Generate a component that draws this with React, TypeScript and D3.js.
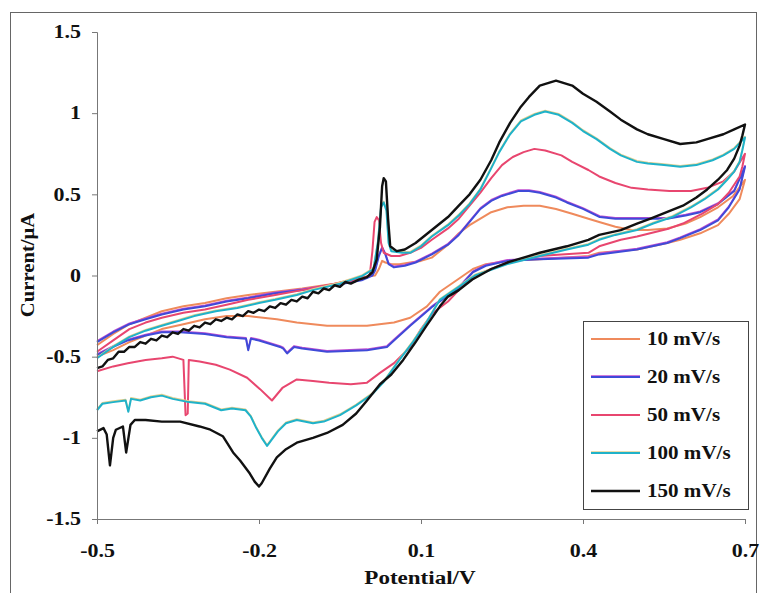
import React, { useEffect, useRef } from "react";
import * as d3 from "d3";

// potential (V) vs current (uA), anodic sweep then cathodic sweep
const scan10 = [
  [-0.5, -0.43], [-0.47, -0.36], [-0.44, -0.3], [-0.41, -0.26], [-0.38, -0.22], [-0.34, -0.19],
  [-0.3, -0.17], [-0.26, -0.14], [-0.22, -0.12], [-0.17, -0.1], [-0.12, -0.08], [-0.06, -0.05],
  [-0.01, -0.01], [0.015, 0.0], [0.022, 0.04], [0.028, 0.09], [0.034, 0.08], [0.045, 0.07],
  [0.06, 0.07], [0.08, 0.08], [0.1, 0.09], [0.12, 0.11], [0.15, 0.19], [0.17, 0.26], [0.19, 0.31],
  [0.21, 0.35], [0.23, 0.39], [0.26, 0.42], [0.29, 0.43], [0.32, 0.43], [0.35, 0.41], [0.38, 0.38],
  [0.41, 0.35], [0.43, 0.33], [0.46, 0.3], [0.49, 0.28], [0.52, 0.28], [0.556, 0.29], [0.59, 0.32],
  [0.617, 0.36], [0.65, 0.42], [0.678, 0.49],
  [0.7, 0.59], [0.695, 0.53], [0.69, 0.47], [0.67, 0.38], [0.65, 0.31], [0.617, 0.26], [0.58, 0.22],
  [0.556, 0.2], [0.5, 0.16], [0.43, 0.14], [0.41, 0.12], [0.32, 0.1], [0.26, 0.09], [0.22, 0.07],
  [0.196, 0.04], [0.17, -0.02], [0.135, -0.1], [0.111, -0.19], [0.08, -0.26], [0.05, -0.29],
  [0.0, -0.31], [-0.074, -0.31], [-0.13, -0.29], [-0.167, -0.27], [-0.22, -0.25], [-0.26, -0.25],
  [-0.3, -0.27], [-0.34, -0.3], [-0.38, -0.33], [-0.41, -0.37], [-0.44, -0.41], [-0.47, -0.46],
  [-0.5, -0.5],
];

const scan20 = [
  [-0.5, -0.41], [-0.47, -0.35], [-0.44, -0.3], [-0.41, -0.27], [-0.38, -0.24], [-0.34, -0.21],
  [-0.3, -0.19], [-0.26, -0.16], [-0.22, -0.14], [-0.17, -0.11], [-0.12, -0.09], [-0.06, -0.06],
  [-0.01, -0.03], [0.01, 0.0], [0.015, 0.03], [0.022, 0.12], [0.028, 0.17], [0.034, 0.13],
  [0.04, 0.07], [0.05, 0.05], [0.07, 0.06], [0.09, 0.08], [0.12, 0.13], [0.15, 0.19], [0.17, 0.25],
  [0.19, 0.33], [0.21, 0.41], [0.23, 0.46], [0.25, 0.49], [0.28, 0.52], [0.3, 0.52], [0.32, 0.51],
  [0.35, 0.48], [0.37, 0.45], [0.4, 0.41], [0.431, 0.36], [0.46, 0.35], [0.493, 0.35], [0.52, 0.35],
  [0.556, 0.35], [0.59, 0.37], [0.617, 0.39], [0.65, 0.44], [0.68, 0.52],
  [0.7, 0.67], [0.695, 0.6], [0.69, 0.53], [0.67, 0.42], [0.65, 0.34], [0.617, 0.28], [0.58, 0.23],
  [0.556, 0.2], [0.5, 0.16], [0.43, 0.13], [0.41, 0.11], [0.32, 0.1], [0.26, 0.09], [0.22, 0.06],
  [0.196, 0.02], [0.172, -0.07], [0.122, -0.19], [0.08, -0.31], [0.05, -0.4], [0.037, -0.44],
  [0.0, -0.46], [-0.074, -0.47], [-0.12, -0.45], [-0.135, -0.44], [-0.148, -0.48], [-0.155, -0.45],
  [-0.161, -0.44], [-0.2, -0.4], [-0.215, -0.39], [-0.22, -0.46], [-0.224, -0.39], [-0.26, -0.38],
  [-0.3, -0.36], [-0.346, -0.35], [-0.38, -0.35], [-0.41, -0.37], [-0.443, -0.4], [-0.47, -0.44],
  [-0.5, -0.49],
];

const scan50 = [
  [-0.5, -0.47], [-0.47, -0.4], [-0.44, -0.33], [-0.41, -0.29], [-0.38, -0.26], [-0.34, -0.23],
  [-0.3, -0.21], [-0.26, -0.18], [-0.22, -0.15], [-0.17, -0.12], [-0.12, -0.09], [-0.06, -0.05],
  [-0.01, -0.02], [0.005, 0.0], [0.01, 0.15], [0.014, 0.33], [0.018, 0.36], [0.022, 0.34],
  [0.026, 0.2], [0.031, 0.14], [0.045, 0.12], [0.06, 0.12], [0.08, 0.14], [0.1, 0.17], [0.12, 0.22],
  [0.15, 0.29], [0.17, 0.35], [0.19, 0.43], [0.21, 0.51], [0.23, 0.6], [0.25, 0.68], [0.27, 0.73],
  [0.29, 0.76], [0.31, 0.78], [0.33, 0.77], [0.36, 0.74], [0.38, 0.7], [0.41, 0.65], [0.43, 0.61],
  [0.46, 0.57], [0.49, 0.54], [0.52, 0.53], [0.56, 0.52], [0.6, 0.52], [0.63, 0.54], [0.66, 0.58],
  [0.68, 0.64],
  [0.7, 0.75], [0.695, 0.67], [0.69, 0.61], [0.67, 0.51], [0.65, 0.44], [0.62, 0.38], [0.585, 0.32],
  [0.56, 0.29], [0.5, 0.24], [0.47, 0.22], [0.43, 0.18], [0.41, 0.14], [0.36, 0.13], [0.32, 0.12],
  [0.26, 0.08], [0.2, 0.0], [0.17, -0.09], [0.15, -0.16], [0.122, -0.23], [0.1, -0.33], [0.08, -0.44],
  [0.05, -0.54], [0.024, -0.6], [0.0, -0.66], [-0.03, -0.67], [-0.07, -0.66], [-0.1, -0.65],
  [-0.13, -0.64], [-0.156, -0.69], [-0.176, -0.77], [-0.198, -0.7], [-0.222, -0.63], [-0.254, -0.58],
  [-0.28, -0.55], [-0.31, -0.53], [-0.33, -0.52], [-0.332, -0.85], [-0.336, -0.86], [-0.34, -0.52],
  [-0.36, -0.5], [-0.38, -0.51], [-0.41, -0.52], [-0.443, -0.54], [-0.47, -0.56], [-0.5, -0.59],
];

const scan100 = [
  [-0.5, -0.51], [-0.47, -0.44], [-0.44, -0.38], [-0.41, -0.34], [-0.38, -0.31], [-0.35, -0.28],
  [-0.32, -0.25], [-0.28, -0.22], [-0.24, -0.2], [-0.2, -0.17], [-0.17, -0.15], [-0.13, -0.12],
  [-0.1, -0.09], [-0.05, -0.05], [-0.01, -0.005], [0.012, 0.04], [0.02, 0.2], [0.026, 0.42],
  [0.031, 0.45], [0.036, 0.4], [0.04, 0.2], [0.045, 0.15], [0.065, 0.14], [0.08, 0.14], [0.1, 0.18],
  [0.12, 0.24], [0.15, 0.31], [0.17, 0.37], [0.19, 0.44], [0.21, 0.53], [0.23, 0.66], [0.245, 0.76],
  [0.265, 0.87], [0.285, 0.95], [0.31, 0.99], [0.33, 1.01], [0.355, 0.99], [0.38, 0.94], [0.4, 0.89],
  [0.425, 0.84], [0.45, 0.78], [0.47, 0.74], [0.5, 0.7], [0.52, 0.69], [0.55, 0.68], [0.58, 0.67],
  [0.61, 0.68], [0.64, 0.71], [0.66, 0.74], [0.68, 0.78],
  [0.7, 0.85], [0.695, 0.77], [0.69, 0.7], [0.68, 0.64], [0.667, 0.59], [0.65, 0.53], [0.625, 0.47],
  [0.6, 0.42], [0.565, 0.36], [0.53, 0.32], [0.5, 0.28], [0.46, 0.25], [0.43, 0.22], [0.41, 0.19],
  [0.37, 0.16], [0.32, 0.12], [0.26, 0.07], [0.2, 0.0], [0.17, -0.07], [0.135, -0.15], [0.11, -0.29],
  [0.085, -0.41], [0.06, -0.52], [0.03, -0.66], [0.01, -0.73], [-0.02, -0.8], [-0.05, -0.86],
  [-0.08, -0.9], [-0.1, -0.91], [-0.13, -0.89], [-0.15, -0.91], [-0.165, -0.96], [-0.185, -1.05],
  [-0.195, -1.0], [-0.205, -0.94], [-0.215, -0.87], [-0.225, -0.83], [-0.25, -0.82], [-0.27, -0.83],
  [-0.3, -0.79], [-0.33, -0.78], [-0.36, -0.76], [-0.38, -0.74], [-0.4, -0.75], [-0.42, -0.77],
  [-0.437, -0.76], [-0.442, -0.84], [-0.447, -0.77], [-0.47, -0.78], [-0.49, -0.79], [-0.5, -0.83],
];

const scan150 = [
  [-0.5, -0.57], [-0.49, -0.56], [-0.48, -0.52], [-0.47, -0.51], [-0.46, -0.47], [-0.45, -0.47],
  [-0.44, -0.44], [-0.43, -0.44], [-0.42, -0.41], [-0.41, -0.42], [-0.4, -0.39], [-0.39, -0.4],
  [-0.38, -0.37], [-0.37, -0.38], [-0.36, -0.35], [-0.35, -0.36], [-0.34, -0.33], [-0.33, -0.34],
  [-0.32, -0.31], [-0.31, -0.32], [-0.3, -0.29], [-0.29, -0.3], [-0.28, -0.27], [-0.27, -0.28],
  [-0.26, -0.26], [-0.25, -0.27], [-0.24, -0.24], [-0.23, -0.25], [-0.22, -0.22], [-0.21, -0.23],
  [-0.2, -0.21], [-0.19, -0.22], [-0.18, -0.19], [-0.17, -0.2], [-0.16, -0.17], [-0.15, -0.18],
  [-0.14, -0.15], [-0.13, -0.16], [-0.12, -0.13], [-0.11, -0.14], [-0.1, -0.1], [-0.09, -0.11],
  [-0.08, -0.08], [-0.07, -0.09], [-0.06, -0.06], [-0.05, -0.07], [-0.04, -0.04], [-0.03, -0.05],
  [-0.015, -0.025], [0.0, -0.01], [0.01, 0.02], [0.018, 0.1], [0.024, 0.3],
  [0.028, 0.55], [0.031, 0.6], [0.035, 0.58], [0.039, 0.35], [0.043, 0.18], [0.055, 0.15],
  [0.07, 0.16], [0.09, 0.2], [0.12, 0.28], [0.15, 0.36], [0.17, 0.43], [0.19, 0.5], [0.21, 0.59],
  [0.23, 0.71], [0.245, 0.82], [0.265, 0.94], [0.285, 1.04], [0.3, 1.1], [0.32, 1.17], [0.35, 1.2],
  [0.38, 1.17], [0.4, 1.12], [0.425, 1.07], [0.45, 1.01], [0.47, 0.96], [0.5, 0.9], [0.52, 0.87],
  [0.55, 0.84], [0.58, 0.81], [0.61, 0.82], [0.63, 0.84], [0.66, 0.87], [0.68, 0.9],
  [0.7, 0.93], [0.695, 0.86], [0.69, 0.8], [0.68, 0.72], [0.667, 0.65], [0.65, 0.59], [0.63, 0.53],
  [0.61, 0.48], [0.585, 0.43], [0.555, 0.39], [0.525, 0.35], [0.5, 0.32], [0.47, 0.28], [0.43, 0.25],
  [0.41, 0.22], [0.37, 0.18], [0.32, 0.14], [0.26, 0.08], [0.23, 0.04], [0.195, -0.025], [0.17, -0.09],
  [0.15, -0.13], [0.135, -0.19], [0.11, -0.31], [0.09, -0.41], [0.067, -0.52], [0.045, -0.61],
  [0.024, -0.67], [0.0, -0.77], [-0.02, -0.85], [-0.045, -0.92], [-0.074, -0.97], [-0.1, -1.0],
  [-0.13, -1.03], [-0.15, -1.07], [-0.167, -1.12], [-0.18, -1.19], [-0.195, -1.28], [-0.2, -1.3],
  [-0.208, -1.27], [-0.217, -1.22], [-0.235, -1.14], [-0.248, -1.09], [-0.267, -0.99], [-0.29, -0.95],
  [-0.31, -0.93], [-0.346, -0.9], [-0.38, -0.9], [-0.41, -0.89], [-0.43, -0.89], [-0.438, -0.92],
  [-0.446, -1.09], [-0.452, -0.93], [-0.465, -0.95], [-0.47, -1.0], [-0.476, -1.17], [-0.482, -0.98],
  [-0.488, -0.94], [-0.5, -0.96],
];

const scanLabels = ["10 mV/s", "20 mV/s", "50 mV/s", "100 mV/s", "150 mV/s"];
const xTicks = [-0.5, -0.2, 0.1, 0.4, 0.7];
const yTicks = [-1.5, -1, -0.5, 0, 0.5, 1, 1.5];

const series = [
  { name: scanLabels[0], data: scan10, color: "#ef8a5c", halo: null, width: 2 },
  { name: scanLabels[1], data: scan20, color: "#3f4ad8", halo: "#c24fd0", width: 2 },
  { name: scanLabels[2], data: scan50, color: "#e8466f", halo: null, width: 2 },
  { name: scanLabels[3], data: scan100, color: "#1fb2c9", halo: "#e3cf8f", width: 2 },
  { name: scanLabels[4], data: scan150, color: "#111111", halo: null, width: 2.4 },
];

const FONT = "'Liberation Serif', 'Times New Roman', serif";

// the scanned original is a bit wider than a plain Times face
const widen = (sel, k) => {
  sel.each(function () {
    const w = this.getComputedTextLength();
    d3.select(this).attr("textLength", w * k).attr("lengthAdjust", "spacingAndGlyphs");
  });
};

const App = () => {
  const svgRef = useRef<SVGSVGElement>(null);

  useEffect(() => {
    const svg = d3.select(svgRef.current);
    svg.selectAll("*").remove();

    const width = 763;
    const height = 593;
    const margin = { top: 32, right: 18, bottom: 74, left: 97 };

    const x = d3.scaleLinear().domain([-0.5, 0.7]).range([margin.left, width - margin.right]);
    const y = d3.scaleLinear().domain([-1.5, 1.5]).range([height - margin.bottom, margin.top]);

    // outer frame
    svg
      .append("rect")
      .attr("x", 10.5)
      .attr("y", 12.5)
      .attr("width", 746)
      .attr("height", 590)
      .attr("fill", "none")
      .attr("stroke", "#666")
      .attr("stroke-width", 1);

    const line = d3
      .line()
      .x((d) => x(d[0]))
      .y((d) => y(d[1]));

    series.forEach((s) => {
      if (s.halo) {
        svg
          .append("path")
          .datum(s.data)
          .attr("fill", "none")
          .attr("stroke", s.halo)
          .attr("stroke-width", 1.6)
          .attr("stroke-linejoin", "round")
          .attr("transform", "translate(0,-1)")
          .attr("d", line);
      }
      svg
        .append("path")
        .datum(s.data)
        .attr("fill", "none")
        .attr("stroke", s.color)
        .attr("stroke-width", s.width)
        .attr("stroke-linejoin", "round")
        .attr("d", line);
    });

    const yAxis = svg
      .append("g")
      .attr("transform", `translate(${margin.left},0)`)
      .call(d3.axisLeft(y).tickValues(yTicks).tickSize(5).tickPadding(11).tickFormat((d) => String(d)));

    const xAxis = svg
      .append("g")
      .attr("transform", `translate(0,${height - margin.bottom})`)
      .call(d3.axisBottom(x).tickValues(xTicks).tickSize(5).tickPadding(20).tickFormat((d) => String(d)));

    [xAxis, yAxis].forEach((g) => {
      g.select(".domain").attr("stroke", "#777");
      g.selectAll(".tick line").attr("stroke", "#777");
      g.selectAll("text")
        .attr("fill", "#111")
        .style("font-family", FONT)
        .style("font-weight", "bold")
        .style("font-size", "18px")
        .call(widen, 1.22);
    });

    svg
      .append("text")
      .attr("transform", "translate(34,265) rotate(-90)")
      .attr("text-anchor", "middle")
      .style("font-family", FONT)
      .style("font-weight", "bold")
      .style("font-size", "18px")
      .attr("fill", "#111")
      .text("Current/μA")
      .call(widen, 1.15);

    svg
      .append("text")
      .attr("x", 420)
      .attr("y", 584)
      .attr("text-anchor", "middle")
      .style("font-family", FONT)
      .style("font-weight", "bold")
      .style("font-size", "18px")
      .attr("fill", "#111")
      .text("Potential/V")
      .call(widen, 1.28);

    // legend
    const legend = svg.append("g").attr("transform", "translate(583,321)");
    legend
      .append("rect")
      .attr("x", 0.5)
      .attr("y", 0.5)
      .attr("width", 165)
      .attr("height", 188)
      .attr("fill", "white")
      .attr("stroke", "#444");

    series.forEach((s, i) => {
      const cy = 18 + i * 38;
      if (s.halo) {
        legend
          .append("line")
          .attr("x1", 8)
          .attr("x2", 57)
          .attr("y1", cy - 1)
          .attr("y2", cy - 1)
          .attr("stroke", s.halo)
          .attr("stroke-width", 1.6);
      }
      legend
        .append("line")
        .attr("x1", 8)
        .attr("x2", 57)
        .attr("y1", cy)
        .attr("y2", cy)
        .attr("stroke", s.color)
        .attr("stroke-width", s.width);
      legend
        .append("text")
        .attr("x", 64)
        .attr("y", cy)
        .attr("dy", "0.35em")
        .style("font-family", FONT)
        .style("font-weight", "bold")
        .style("font-size", "18px")
        .attr("fill", "#111")
        .text(s.name)
        .call(widen, 1.17);
    });
  }, []);

  return (
    <svg
      ref={svgRef}
      width={763}
      height={593}
      style={{ position: "absolute", left: 0, top: 0, background: "white" }}
    ></svg>
  );
};

export default App;
